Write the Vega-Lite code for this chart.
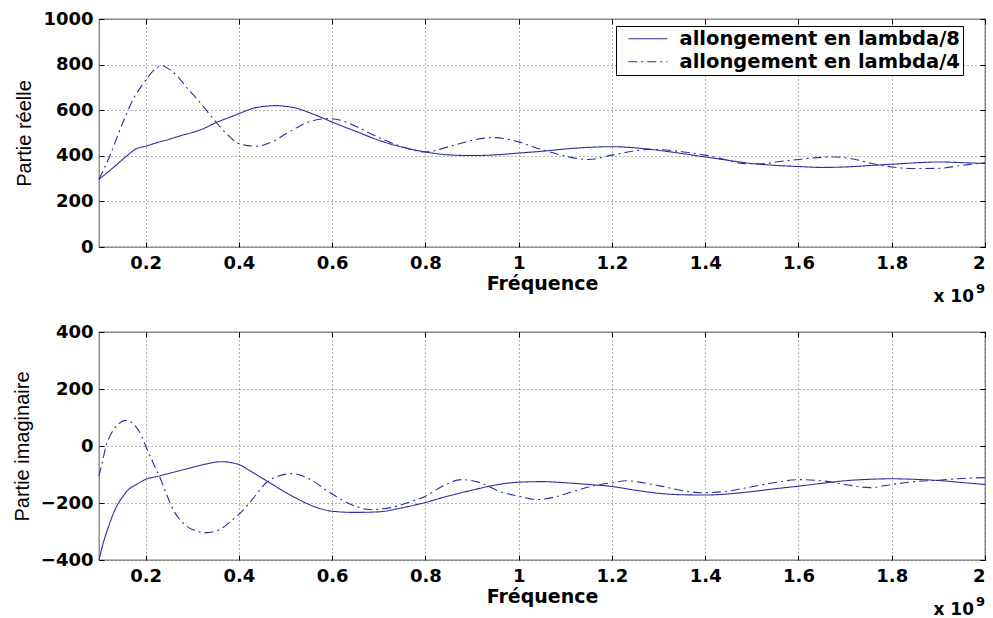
{
  "$schema": "https://vega.github.io/schema/vega-lite/v6.json",
  "autosize": {"type": "pad"},
  "padding": {"left": 11, "top": 9, "right": 1, "bottom": 0},
  "background": "white",
  "spacing": 85,
  "bounds": "flush",
  "config": {
    "view": {"stroke": "#7f7f7f", "strokeWidth": 1.3},
    "axis": {
      "labelFont": "DejaVu Sans", "labelFontWeight": "bold", "labelFontSize": 18, "labelColor": "black",
      "titleColor": "black", "domain": false, "gridColor": "#555555", "gridDash": [1, 3], "gridOpacity": 0.9,
      "tickColor": "black", "tickSize": -5, "labelPadding": 6, "format": "~g"
    },
    "axisX": {"labelPadding": 12},
    "axisY": {"labelPadding": 11},
    "line": {"color": "#2e2e9c", "strokeWidth": 1.1}
  },
  "datasets": {
    "reel": [
      {"f":0.1,"v":297,"s":"allongement en lambda/8"},{"f":0.12,"v":330,"s":"allongement en lambda/8"},{"f":0.14,"v":365,"s":"allongement en lambda/8"},{"f":0.16,"v":400,"s":"allongement en lambda/8"},{"f":0.18,"v":431,"s":"allongement en lambda/8"},{"f":0.2,"v":442,"s":"allongement en lambda/8"},{"f":0.225,"v":458,"s":"allongement en lambda/8"},{"f":0.25,"v":472,"s":"allongement en lambda/8"},{"f":0.275,"v":488,"s":"allongement en lambda/8"},{"f":0.3,"v":502,"s":"allongement en lambda/8"},{"f":0.325,"v":520,"s":"allongement en lambda/8"},{"f":0.35,"v":545,"s":"allongement en lambda/8"},{"f":0.375,"v":565,"s":"allongement en lambda/8"},{"f":0.4,"v":585,"s":"allongement en lambda/8"},{"f":0.43,"v":608,"s":"allongement en lambda/8"},{"f":0.46,"v":618,"s":"allongement en lambda/8"},{"f":0.48,"v":620,"s":"allongement en lambda/8"},{"f":0.5,"v":617,"s":"allongement en lambda/8"},{"f":0.525,"v":608,"s":"allongement en lambda/8"},{"f":0.55,"v":590,"s":"allongement en lambda/8"},{"f":0.575,"v":570,"s":"allongement en lambda/8"},{"f":0.6,"v":548,"s":"allongement en lambda/8"},{"f":0.65,"v":508,"s":"allongement en lambda/8"},{"f":0.7,"v":468,"s":"allongement en lambda/8"},{"f":0.75,"v":438,"s":"allongement en lambda/8"},{"f":0.8,"v":417,"s":"allongement en lambda/8"},{"f":0.85,"v":404,"s":"allongement en lambda/8"},{"f":0.9,"v":401,"s":"allongement en lambda/8"},{"f":0.95,"v":404,"s":"allongement en lambda/8"},{"f":1.0,"v":412,"s":"allongement en lambda/8"},{"f":1.05,"v":420,"s":"allongement en lambda/8"},{"f":1.1,"v":430,"s":"allongement en lambda/8"},{"f":1.15,"v":437,"s":"allongement en lambda/8"},{"f":1.2,"v":440,"s":"allongement en lambda/8"},{"f":1.25,"v":435,"s":"allongement en lambda/8"},{"f":1.3,"v":424,"s":"allongement en lambda/8"},{"f":1.35,"v":410,"s":"allongement en lambda/8"},{"f":1.4,"v":395,"s":"allongement en lambda/8"},{"f":1.45,"v":380,"s":"allongement en lambda/8"},{"f":1.5,"v":366,"s":"allongement en lambda/8"},{"f":1.55,"v":358,"s":"allongement en lambda/8"},{"f":1.6,"v":353,"s":"allongement en lambda/8"},{"f":1.65,"v":349,"s":"allongement en lambda/8"},{"f":1.7,"v":351,"s":"allongement en lambda/8"},{"f":1.75,"v":357,"s":"allongement en lambda/8"},{"f":1.8,"v":363,"s":"allongement en lambda/8"},{"f":1.85,"v":369,"s":"allongement en lambda/8"},{"f":1.9,"v":373,"s":"allongement en lambda/8"},{"f":1.95,"v":370,"s":"allongement en lambda/8"},{"f":2.0,"v":366,"s":"allongement en lambda/8"},
      {"f":0.1,"v":297,"s":"allongement en lambda/4"},{"f":0.122,"v":394,"s":"allongement en lambda/4"},{"f":0.15,"v":540,"s":"allongement en lambda/4"},{"f":0.172,"v":642,"s":"allongement en lambda/4"},{"f":0.2,"v":731,"s":"allongement en lambda/4"},{"f":0.22,"v":780,"s":"allongement en lambda/4"},{"f":0.235,"v":795,"s":"allongement en lambda/4"},{"f":0.25,"v":780,"s":"allongement en lambda/4"},{"f":0.27,"v":745,"s":"allongement en lambda/4"},{"f":0.287,"v":702,"s":"allongement en lambda/4"},{"f":0.31,"v":650,"s":"allongement en lambda/4"},{"f":0.33,"v":600,"s":"allongement en lambda/4"},{"f":0.35,"v":550,"s":"allongement en lambda/4"},{"f":0.373,"v":498,"s":"allongement en lambda/4"},{"f":0.4,"v":454,"s":"allongement en lambda/4"},{"f":0.437,"v":442,"s":"allongement en lambda/4"},{"f":0.47,"v":460,"s":"allongement en lambda/4"},{"f":0.502,"v":498,"s":"allongement en lambda/4"},{"f":0.53,"v":530,"s":"allongement en lambda/4"},{"f":0.56,"v":555,"s":"allongement en lambda/4"},{"f":0.595,"v":563,"s":"allongement en lambda/4"},{"f":0.62,"v":555,"s":"allongement en lambda/4"},{"f":0.65,"v":530,"s":"allongement en lambda/4"},{"f":0.7,"v":480,"s":"allongement en lambda/4"},{"f":0.75,"v":440,"s":"allongement en lambda/4"},{"f":0.8,"v":417,"s":"allongement en lambda/4"},{"f":0.85,"v":440,"s":"allongement en lambda/4"},{"f":0.9,"v":468,"s":"allongement en lambda/4"},{"f":0.945,"v":480,"s":"allongement en lambda/4"},{"f":1.0,"v":461,"s":"allongement en lambda/4"},{"f":1.03,"v":440,"s":"allongement en lambda/4"},{"f":1.067,"v":417,"s":"allongement en lambda/4"},{"f":1.1,"v":398,"s":"allongement en lambda/4"},{"f":1.149,"v":384,"s":"allongement en lambda/4"},{"f":1.2,"v":403,"s":"allongement en lambda/4"},{"f":1.25,"v":422,"s":"allongement en lambda/4"},{"f":1.28,"v":428,"s":"allongement en lambda/4"},{"f":1.303,"v":427,"s":"allongement en lambda/4"},{"f":1.35,"v":418,"s":"allongement en lambda/4"},{"f":1.4,"v":403,"s":"allongement en lambda/4"},{"f":1.44,"v":385,"s":"allongement en lambda/4"},{"f":1.48,"v":366,"s":"allongement en lambda/4"},{"f":1.52,"v":365,"s":"allongement en lambda/4"},{"f":1.56,"v":375,"s":"allongement en lambda/4"},{"f":1.6,"v":384,"s":"allongement en lambda/4"},{"f":1.64,"v":392,"s":"allongement en lambda/4"},{"f":1.68,"v":395,"s":"allongement en lambda/4"},{"f":1.72,"v":385,"s":"allongement en lambda/4"},{"f":1.76,"v":365,"s":"allongement en lambda/4"},{"f":1.8,"v":351,"s":"allongement en lambda/4"},{"f":1.846,"v":344,"s":"allongement en lambda/4"},{"f":1.9,"v":345,"s":"allongement en lambda/4"},{"f":1.95,"v":358,"s":"allongement en lambda/4"},{"f":2.0,"v":370,"s":"allongement en lambda/4"}
    ],
    "imag": [
      {"f":0.1,"v":-400,"s":"allongement en lambda/8"},{"f":0.11,"v":-335,"s":"allongement en lambda/8"},{"f":0.12,"v":-285,"s":"allongement en lambda/8"},{"f":0.13,"v":-240,"s":"allongement en lambda/8"},{"f":0.14,"v":-205,"s":"allongement en lambda/8"},{"f":0.15,"v":-180,"s":"allongement en lambda/8"},{"f":0.16,"v":-158,"s":"allongement en lambda/8"},{"f":0.18,"v":-135,"s":"allongement en lambda/8"},{"f":0.2,"v":-117,"s":"allongement en lambda/8"},{"f":0.23,"v":-105,"s":"allongement en lambda/8"},{"f":0.26,"v":-92,"s":"allongement en lambda/8"},{"f":0.3,"v":-75,"s":"allongement en lambda/8"},{"f":0.33,"v":-63,"s":"allongement en lambda/8"},{"f":0.362,"v":-55,"s":"allongement en lambda/8"},{"f":0.4,"v":-65,"s":"allongement en lambda/8"},{"f":0.425,"v":-88,"s":"allongement en lambda/8"},{"f":0.45,"v":-113,"s":"allongement en lambda/8"},{"f":0.475,"v":-138,"s":"allongement en lambda/8"},{"f":0.5,"v":-163,"s":"allongement en lambda/8"},{"f":0.525,"v":-185,"s":"allongement en lambda/8"},{"f":0.55,"v":-205,"s":"allongement en lambda/8"},{"f":0.575,"v":-220,"s":"allongement en lambda/8"},{"f":0.6,"v":-229,"s":"allongement en lambda/8"},{"f":0.65,"v":-233,"s":"allongement en lambda/8"},{"f":0.7,"v":-231,"s":"allongement en lambda/8"},{"f":0.75,"v":-217,"s":"allongement en lambda/8"},{"f":0.8,"v":-198,"s":"allongement en lambda/8"},{"f":0.85,"v":-175,"s":"allongement en lambda/8"},{"f":0.9,"v":-155,"s":"allongement en lambda/8"},{"f":0.95,"v":-137,"s":"allongement en lambda/8"},{"f":1.0,"v":-127,"s":"allongement en lambda/8"},{"f":1.05,"v":-125,"s":"allongement en lambda/8"},{"f":1.1,"v":-129,"s":"allongement en lambda/8"},{"f":1.15,"v":-135,"s":"allongement en lambda/8"},{"f":1.2,"v":-142,"s":"allongement en lambda/8"},{"f":1.25,"v":-155,"s":"allongement en lambda/8"},{"f":1.3,"v":-166,"s":"allongement en lambda/8"},{"f":1.35,"v":-171,"s":"allongement en lambda/8"},{"f":1.4,"v":-172,"s":"allongement en lambda/8"},{"f":1.45,"v":-168,"s":"allongement en lambda/8"},{"f":1.5,"v":-160,"s":"allongement en lambda/8"},{"f":1.55,"v":-150,"s":"allongement en lambda/8"},{"f":1.6,"v":-141,"s":"allongement en lambda/8"},{"f":1.65,"v":-131,"s":"allongement en lambda/8"},{"f":1.7,"v":-122,"s":"allongement en lambda/8"},{"f":1.75,"v":-117,"s":"allongement en lambda/8"},{"f":1.8,"v":-115,"s":"allongement en lambda/8"},{"f":1.85,"v":-117,"s":"allongement en lambda/8"},{"f":1.9,"v":-121,"s":"allongement en lambda/8"},{"f":1.95,"v":-128,"s":"allongement en lambda/8"},{"f":2.0,"v":-135,"s":"allongement en lambda/8"},
      {"f":0.1,"v":-106,"s":"allongement en lambda/4"},{"f":0.108,"v":-50,"s":"allongement en lambda/4"},{"f":0.115,"v":0,"s":"allongement en lambda/4"},{"f":0.125,"v":40,"s":"allongement en lambda/4"},{"f":0.14,"v":75,"s":"allongement en lambda/4"},{"f":0.157,"v":90,"s":"allongement en lambda/4"},{"f":0.175,"v":75,"s":"allongement en lambda/4"},{"f":0.19,"v":40,"s":"allongement en lambda/4"},{"f":0.2,"v":0,"s":"allongement en lambda/4"},{"f":0.215,"v":-55,"s":"allongement en lambda/4"},{"f":0.23,"v":-108,"s":"allongement en lambda/4"},{"f":0.245,"v":-170,"s":"allongement en lambda/4"},{"f":0.258,"v":-220,"s":"allongement en lambda/4"},{"f":0.28,"v":-270,"s":"allongement en lambda/4"},{"f":0.3,"v":-293,"s":"allongement en lambda/4"},{"f":0.33,"v":-304,"s":"allongement en lambda/4"},{"f":0.36,"v":-292,"s":"allongement en lambda/4"},{"f":0.387,"v":-258,"s":"allongement en lambda/4"},{"f":0.4,"v":-240,"s":"allongement en lambda/4"},{"f":0.43,"v":-185,"s":"allongement en lambda/4"},{"f":0.459,"v":-128,"s":"allongement en lambda/4"},{"f":0.485,"v":-105,"s":"allongement en lambda/4"},{"f":0.515,"v":-97,"s":"allongement en lambda/4"},{"f":0.55,"v":-115,"s":"allongement en lambda/4"},{"f":0.595,"v":-163,"s":"allongement en lambda/4"},{"f":0.64,"v":-205,"s":"allongement en lambda/4"},{"f":0.68,"v":-223,"s":"allongement en lambda/4"},{"f":0.72,"v":-218,"s":"allongement en lambda/4"},{"f":0.76,"v":-200,"s":"allongement en lambda/4"},{"f":0.8,"v":-176,"s":"allongement en lambda/4"},{"f":0.84,"v":-138,"s":"allongement en lambda/4"},{"f":0.877,"v":-118,"s":"allongement en lambda/4"},{"f":0.92,"v":-130,"s":"allongement en lambda/4"},{"f":0.96,"v":-160,"s":"allongement en lambda/4"},{"f":1.0,"v":-176,"s":"allongement en lambda/4"},{"f":1.038,"v":-188,"s":"allongement en lambda/4"},{"f":1.08,"v":-178,"s":"allongement en lambda/4"},{"f":1.12,"v":-158,"s":"allongement en lambda/4"},{"f":1.16,"v":-140,"s":"allongement en lambda/4"},{"f":1.2,"v":-129,"s":"allongement en lambda/4"},{"f":1.231,"v":-122,"s":"allongement en lambda/4"},{"f":1.27,"v":-130,"s":"allongement en lambda/4"},{"f":1.303,"v":-140,"s":"allongement en lambda/4"},{"f":1.35,"v":-156,"s":"allongement en lambda/4"},{"f":1.395,"v":-164,"s":"allongement en lambda/4"},{"f":1.44,"v":-160,"s":"allongement en lambda/4"},{"f":1.5,"v":-143,"s":"allongement en lambda/4"},{"f":1.55,"v":-128,"s":"allongement en lambda/4"},{"f":1.6,"v":-118,"s":"allongement en lambda/4"},{"f":1.65,"v":-122,"s":"allongement en lambda/4"},{"f":1.7,"v":-135,"s":"allongement en lambda/4"},{"f":1.753,"v":-146,"s":"allongement en lambda/4"},{"f":1.8,"v":-135,"s":"allongement en lambda/4"},{"f":1.85,"v":-125,"s":"allongement en lambda/4"},{"f":1.9,"v":-120,"s":"allongement en lambda/4"},{"f":1.95,"v":-114,"s":"allongement en lambda/4"},{"f":2.0,"v":-111,"s":"allongement en lambda/4"}
    ],
    "exposant": [{"base": "x 10", "puissance": "9"}]
  },
  "resolve": {"legend": {"strokeDash": "independent"}},
  "vconcat": [
    {
      "width": 886, "height": 228,
      "resolve": {"axis": {"x": "independent", "y": "independent"}},
      "layer": [
        {
          "data": {"name": "reel"},
          "mark": {"type": "line", "interpolate": "monotone"},
          "encoding": {
            "x": {"field": "f", "type": "quantitative", "scale": {"domain": [0.1, 2], "nice": false, "zero": false},
              "axis": {"values": [0.2,0.4,0.6,0.8,1,1.2,1.4,1.6,1.8,2], "format": "~g", "grid": true, "title": "Fréquence",
                "titleFont": "DejaVu Sans", "titleFontWeight": "bold", "titleFontSize": 19, "titlePadding": 2}},
            "y": {"field": "v", "type": "quantitative", "scale": {"domain": [0, 1000], "nice": false},
              "axis": {"values": [0,200,400,600,800,1000], "format": "d", "grid": true, "title": "Partie réelle",
                "titleFont": "Liberation Sans", "titleFontWeight": "normal", "titleFontSize": 20, "titlePadding": 8}},
            "strokeDash": {"field": "s", "type": "nominal",
              "scale": {"domain": ["allongement en lambda/8", "allongement en lambda/4"], "range": [[1, 0], [9, 4, 2, 4]]},
              "legend": {"orient": "none", "legendX": 517, "legendY": 7, "title": null, "padding": 3,
                "strokeColor": "black", "fillColor": "white", "labelFont": "DejaVu Sans", "labelFontWeight": "bold",
                "labelFontSize": 19.5, "labelColor": "black", "labelLimit": 500, "symbolType": "M-3,0H3", "symbolSize": 169,
                "symbolStrokeColor": "#2e2e9c", "symbolStrokeWidth": 1.1, "symbolOffset": 19, "labelOffset": 22, "rowPadding": 2}}
          }
        },
        {
          "data": {"name": "exposant"},
          "mark": {"type": "text", "align": "right", "baseline": "alphabetic", "dx": -11, "dy": 55, "fontSize": 17, "font": "DejaVu Sans", "fontWeight": "bold", "color": "black"},
          "encoding": {
            "x": {"datum": 2, "type": "quantitative", "axis": {"orient": "top", "values": [0.2,0.4,0.6,0.8,1,1.2,1.4,1.6,1.8,2], "labels": false, "grid": false, "title": null}},
            "y": {"datum": 0, "type": "quantitative", "axis": {"orient": "right", "values": [0,200,400,600,800,1000], "labels": false, "grid": false, "title": null}},
            "text": {"field": "base"}
          }
        },
        {
          "data": {"name": "exposant"},
          "mark": {"type": "text", "align": "right", "baseline": "alphabetic", "dx": 0, "dy": 46, "fontSize": 13, "font": "DejaVu Sans", "fontWeight": "bold", "color": "black"},
          "encoding": {
            "x": {"datum": 2, "type": "quantitative", "axis": null},
            "y": {"datum": 0, "type": "quantitative", "axis": null},
            "text": {"field": "puissance"}
          }
        }
      ]
    },
    {
      "width": 886, "height": 228,
      "resolve": {"axis": {"x": "independent", "y": "independent"}},
      "layer": [
        {
          "data": {"name": "imag"},
          "mark": {"type": "line", "interpolate": "monotone"},
          "encoding": {
            "x": {"field": "f", "type": "quantitative", "scale": {"domain": [0.1, 2], "nice": false, "zero": false},
              "axis": {"values": [0.2,0.4,0.6,0.8,1,1.2,1.4,1.6,1.8,2], "format": "~g", "grid": true, "title": "Fréquence",
                "titleFont": "DejaVu Sans", "titleFontWeight": "bold", "titleFontSize": 19, "titlePadding": 2}},
            "y": {"field": "v", "type": "quantitative", "scale": {"domain": [-400, 400], "nice": false, "zero": false},
              "axis": {"values": [-400,-200,0,200,400], "format": "d", "grid": true, "title": "Partie imaginaire",
                "titleFont": "Liberation Sans", "titleFontWeight": "normal", "titleFontSize": 20, "titlePadding": 8}},
            "strokeDash": {"field": "s", "type": "nominal",
              "scale": {"domain": ["allongement en lambda/8", "allongement en lambda/4"], "range": [[1, 0], [9, 4, 2, 4]]},
              "legend": null}
          }
        },
        {
          "data": {"name": "exposant"},
          "mark": {"type": "text", "align": "right", "baseline": "alphabetic", "dx": -11, "dy": 55, "fontSize": 17, "font": "DejaVu Sans", "fontWeight": "bold", "color": "black"},
          "encoding": {
            "x": {"datum": 2, "type": "quantitative", "axis": {"orient": "top", "values": [0.2,0.4,0.6,0.8,1,1.2,1.4,1.6,1.8,2], "labels": false, "grid": false, "title": null}},
            "y": {"datum": -400, "type": "quantitative", "axis": {"orient": "right", "values": [-400,-200,0,200,400], "labels": false, "grid": false, "title": null}},
            "text": {"field": "base"}
          }
        },
        {
          "data": {"name": "exposant"},
          "mark": {"type": "text", "align": "right", "baseline": "alphabetic", "dx": 0, "dy": 46, "fontSize": 13, "font": "DejaVu Sans", "fontWeight": "bold", "color": "black"},
          "encoding": {
            "x": {"datum": 2, "type": "quantitative", "axis": null},
            "y": {"datum": -400, "type": "quantitative", "axis": null},
            "text": {"field": "puissance"}
          }
        }
      ]
    }
  ]
}
